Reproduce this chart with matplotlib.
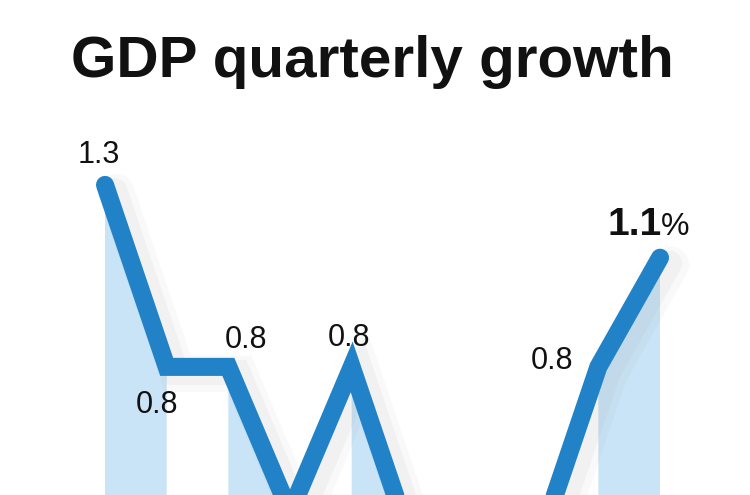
import numpy as np
import matplotlib
matplotlib.use("Agg")
import matplotlib.pyplot as plt
import matplotlib.patheffects as pe

# Korea GDP, quarter-on-quarter growth (%), Q1 2011 .. Q2 2013
quarters = ["11Q1", "11Q2", "11Q3", "11Q4", "12Q1", "12Q2", "12Q3", "12Q4", "13Q1", "13Q2"]
growth = [1.3, 0.8, 0.8, 0.4, 0.8, 0.3, 0.1, 0.3, 0.8, 1.1]
shaded_from = [0, 2, 4, 6, 8]          # segments shaded light blue
labelled = [0, 1, 2, 4, 8]             # points that carry a value label

LINE = "#2182c8"
FILL = "#c8e4f6"

plt.rcParams["font.family"] = ["Liberation Sans", "DejaVu Sans"]

fig = plt.figure(figsize=(7.5, 4.95), dpi=100)
ax = fig.add_axes([0, 0, 1, 1])
x = np.arange(len(growth))
y = np.array(growth)

for i in shaded_from:
    ax.fill_between(x[i:i + 2], y[i:i + 2], -1, color=FILL, lw=0, zorder=1)

# soft drop shadow, then the line itself
shadow = [pe.SimpleLineShadow(offset=(8, -5), shadow_color="#999999", alpha=0.06, linewidth=26),
          pe.SimpleLineShadow(offset=(7, -4), shadow_color="#999999", alpha=0.08, linewidth=18),
          pe.Normal()]
ax.plot(x, y, color=LINE, lw=13, solid_capstyle="round", solid_joinstyle="miter",
        zorder=3, path_effects=shadow)

# label offsets in pixels
offsets = {0: (-6, 30), 1: (-10, -38), 2: (18, 27), 4: (-3, 29), 8: (-46, 6)}
for i in labelled:
    ax.annotate(f"{growth[i]:.1f}", (x[i], y[i]), xytext=offsets[i],
                textcoords="offset pixels", ha="center", va="center",
                fontsize=22, color="#111111", zorder=5)

last = len(growth) - 1
ax.annotate(f"{growth[last]:.1f}", (x[last], y[last]), xytext=(-25, 33),
            textcoords="offset pixels", ha="center", va="center",
            fontsize=28, fontweight="bold", color="#111111", zorder=5)
ax.annotate("%", (x[last], y[last]), xytext=(15, 31),
            textcoords="offset pixels", ha="center", va="center",
            fontsize=23, color="#111111", zorder=5)

ax.set_xlim(-1.703, 10.459)
ax.set_ylim(0.448, 1.808)
ax.axis("off")

fig.text(0.497, 0.875, "GDP quarterly growth", ha="center", va="center",
         fontsize=42, fontweight="bold", color="#111111")

fig.savefig("out.png", dpi=100, facecolor="white")
